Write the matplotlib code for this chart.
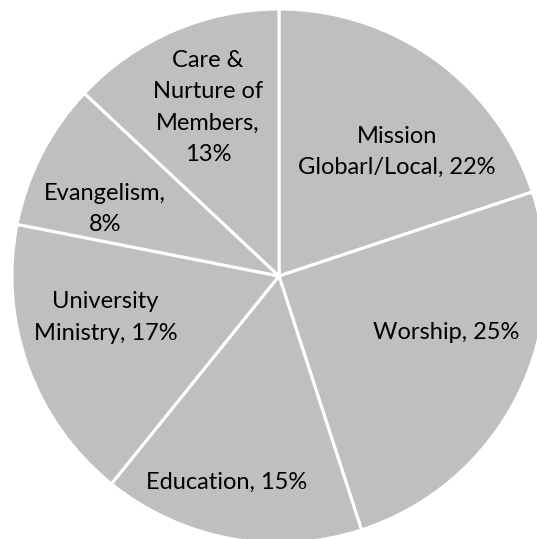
import numpy as np
import matplotlib
matplotlib.use("Agg")
import matplotlib.pyplot as plt

labels = ["Mission\nGlobarl/Local", "Worship", "Education",
          "University\nMinistry", "Evangelism", "Care &\nNurture of\nMembers"]
pct_text = [22, 25, 15, 17, 8, 13]
# slice sizes as drawn in the picture (the drawn wedges don't quite match the printed %)
shares = [19.9, 25.1, 15.8, 17.3, 8.9, 13.0]
sep = [", ", ", ", ", ", ", ", ",\n", ",\n"]
# where each label sits: fraction of radius and degrees off the wedge middle
label_dist = [0.641, 0.661, 0.796, 0.668, 0.698, 0.685]
label_shift = [-7.8, 8.0, -3.8, -6.5, 6.1, -0.5]

fig = plt.figure(figsize=(5.37, 5.39), dpi=100)
ax = fig.add_axes([0, 0, 1, 1])

cx, cy, r = 279, 263, 267
wedges, _ = ax.pie(shares, startangle=90, counterclock=False,
                   colors=["#bfbfbf"] * len(shares), center=(cx, cy), radius=r,
                   wedgeprops=dict(edgecolor="white", linewidth=2.2),
                   frame=True)
ax.set_xlim(0, 537)
ax.set_ylim(0, 539)
ax.set_aspect("equal")
ax.axis("off")

for w, lab, p, sp, d, s in zip(wedges, labels, pct_text, sep, label_dist, label_shift):
    mid = np.deg2rad((w.theta1 + w.theta2) / 2 + s)
    x = cx + d * r * np.cos(mid)
    y = cy + d * r * np.sin(mid)
    ax.text(x, y, f"{lab}{sp}{p}%", ha="center", va="center",
            fontsize=17, family="Lato", color="#000000", linespacing=1.6)

fig.savefig("out.png", dpi=100)
